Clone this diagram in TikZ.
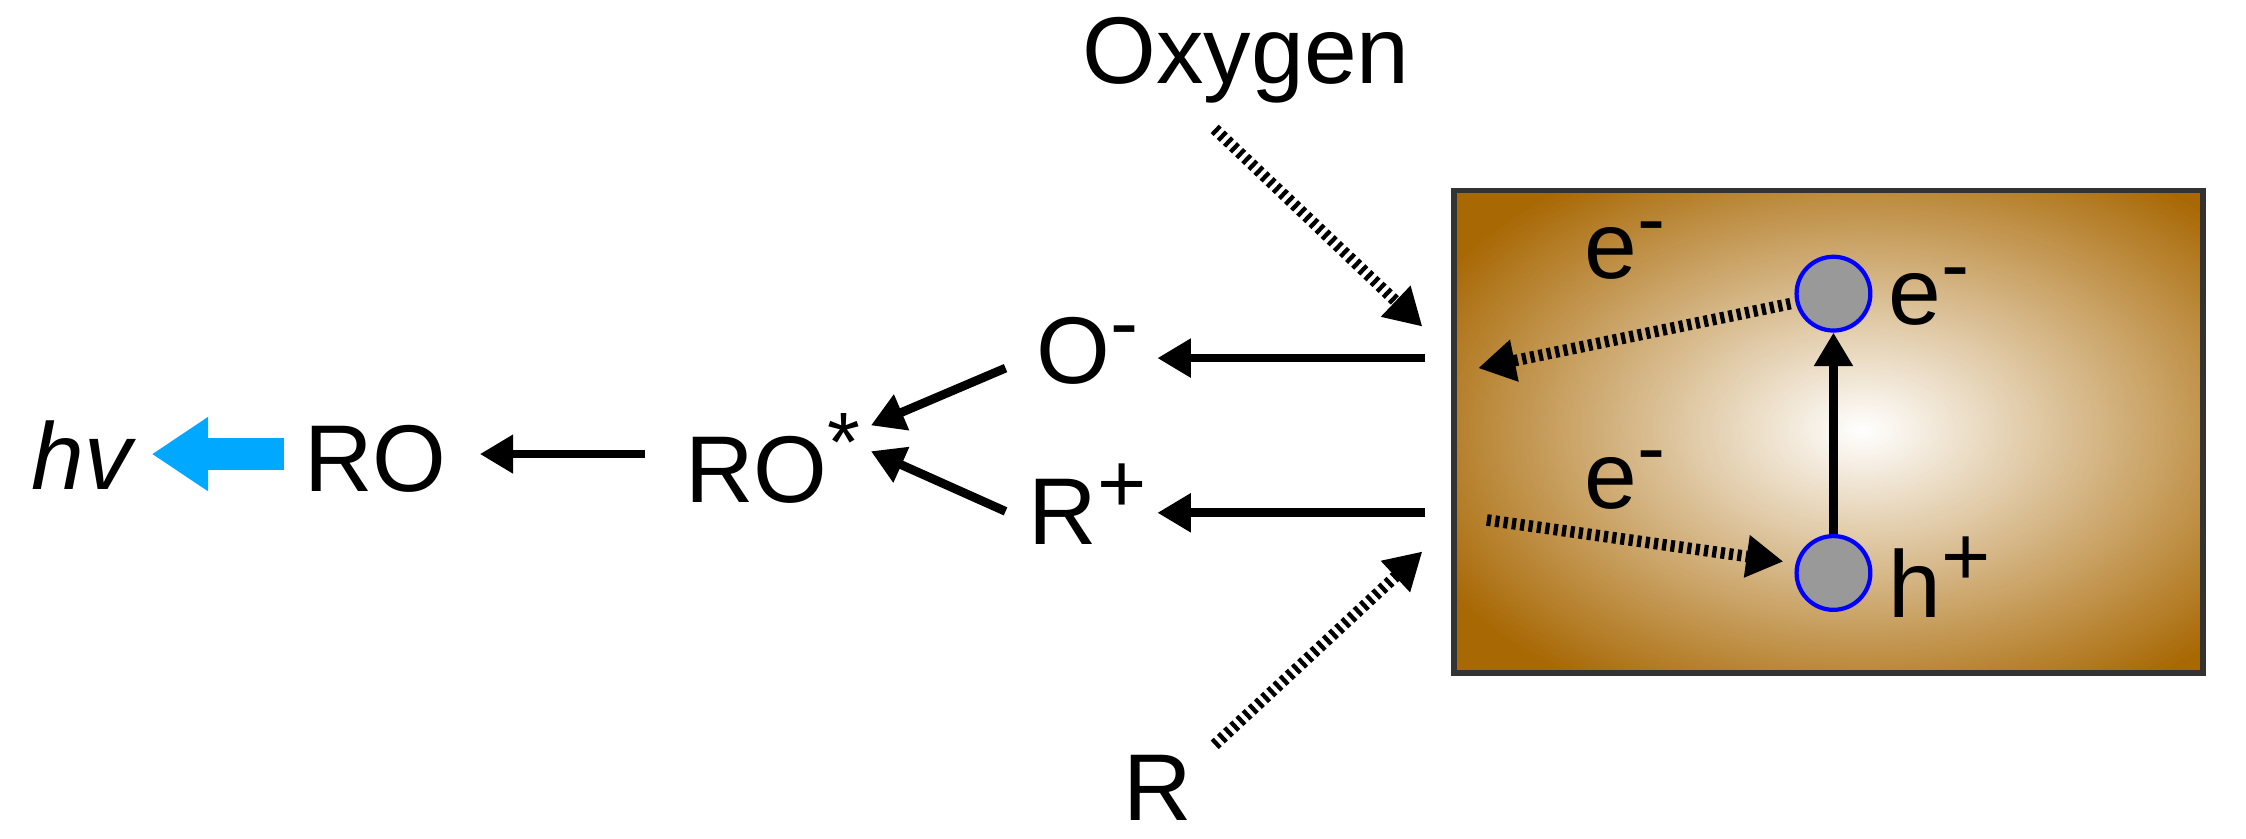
\documentclass[tikz,border=0pt]{standalone}
\usepackage{fontspec}
\setmainfont{Liberation Sans}
\usetikzlibrary{arrows.meta}
\definecolor{brn}{RGB}{168,104,4}
\definecolor{skyb}{RGB}{0,168,255}
\newcommand{\sps}[1]{\textsuperscript{\fontsize{24}{24}\selectfont #1}}
\begin{document}
\begin{tikzpicture}[x=0.014324cm,y=-0.014324cm,
  lbl/.style={font=\fontsize{27}{32}\selectfont,inner sep=0pt},
  solid arr/.style={line width=2.5pt,-{Triangle[length=9.5pt,width=10.5pt]}},
  dot arr/.style={line width=3.3pt,dash pattern=on 1.2pt off 1.2pt,-{Triangle[length=10.5pt,width=11.5pt]}},
  part/.style={circle,minimum size=21pt,inner sep=0pt,fill=gray!80,draw=blue,line width=1.2pt}]
\useasboundingbox (0,0) rectangle (1568,585.7);
\node[lbl] (hv) at (57,318) {\itshape hv};
\node[lbl] (ro) at (262,320) {RO};
\node[lbl] (rostar) at (540,320) {RO\sps{*}};
\node[lbl] (om) at (760,245) {O\sps{-}};
\node[lbl] (rp) at (760,352) {R\sps{+}};
\node[lbl] (oxy) at (870,42) {Oxygen};
\node[lbl] (r) at (808,550) {R};
\begin{scope}
\clip (1015,133) rectangle (1538,470);
\fill[brn] (1015,133) rectangle (1538,470);
\shade[inner color=white,outer color=brn] (1300,300) ellipse (340 and 215);
\end{scope}
\draw[line width=1.6pt,black!80] (1015,133) rectangle (1538,470);
\node[part] (c1) at (1280,205) {};
\node[part] (c2) at (1280,400) {};
\node[lbl,anchor=west] (e1) at (1318,207) {e\sps{-}};
\node[lbl,anchor=west] (h1) at (1318,403) {h\sps{+}};
\node[lbl] (e2) at (1135,175) {e\sps{-}};
\node[lbl] (e3) at (1135,335) {e\sps{-}};
\coordinate (b1) at (995,250);
\coordinate (b2) at (995,358);
\coordinate (ot) at (848,90);
\coordinate (oh) at (993,228);
\coordinate (rt) at (848,520);
\coordinate (rh) at (993,385);
\coordinate (d1t) at (1250,212);
\coordinate (d1h) at (1032,257);
\coordinate (d2t) at (1038,363);
\coordinate (d2h) at (1245,392);
\draw[solid arr] (c2) -- (c1);
\draw[solid arr] (b1) -- (808,250);
\draw[solid arr] (b2) -- (808,358);
\draw[solid arr] (702,257) -- (608,297);
\draw[solid arr] (702,357) -- (608,315);
\draw[solid arr] (450,317) -- (335,317);
\draw[line width=9pt,skyb,-{Triangle[length=16pt,width=20pt]}] (198,317) -- (106,317);
\draw[dot arr] (ot) -- (oh);
\draw[dot arr] (rt) -- (rh);
\draw[dot arr] (d1t) -- (d1h);
\draw[dot arr] (d2t) -- (d2h);
\end{tikzpicture}
\end{document}
